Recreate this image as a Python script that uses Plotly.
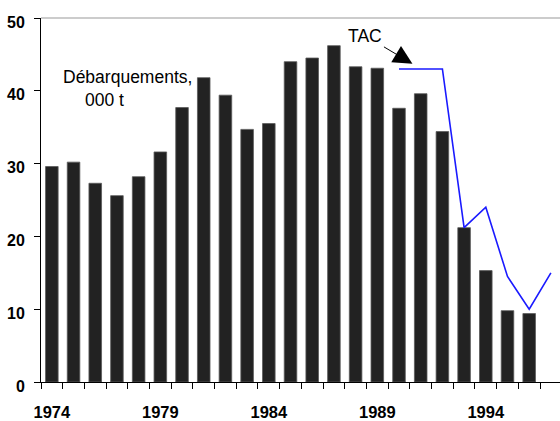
import plotly.graph_objects as go

years = list(range(1974, 1997))
landings = [29.6, 30.2, 27.3, 25.6, 28.2, 31.6, 37.7, 41.8, 39.4, 34.7, 35.5,
            44.0, 44.5, 46.2, 43.3, 43.1, 37.6, 39.6, 34.4, 21.2, 15.3, 9.8, 9.4]
tac_years = [1990, 1991, 1992, 1993, 1994, 1995, 1996, 1997]
tac_values = [43.0, 43.0, 43.0, 21.2, 24.0, 14.5, 10.0, 15.0]
tick_years = [1974, 1979, 1984, 1989, 1994]
y_ticks = [0, 10, 20, 30, 40, 50]

FONT = "Arial, Liberation Sans, sans-serif"

fig = go.Figure()
fig.add_trace(go.Bar(
    x=years, y=landings, width=0.58,
    marker=dict(color="#222222", line=dict(color="#5a5a5a", width=0.8)),
    showlegend=False,
))
fig.add_trace(go.Scatter(
    x=tac_years, y=tac_values, mode="lines",
    line=dict(color="#1a1aff", width=1.6),
    showlegend=False,
))

fig.update_layout(
    width=560, height=421,
    margin=dict(l=41, r=0, t=18, b=39, autoexpand=False),
    paper_bgcolor="white", plot_bgcolor="white",
    font=dict(family=FONT, color="black"),
    xaxis=dict(
        range=[1973.5, 1997.42],
        automargin=False,
        tickvals=tick_years,
        ticktext=[str(t) for t in tick_years],
        ticks="outside", ticklen=6, tickcolor="rgba(0,0,0,0)",
        ticklabelstandoff=9,
        tickfont=dict(family=FONT, size=16.5, color="black", weight="bold"),
        showline=True, linecolor="black", linewidth=1,
        showgrid=False, zeroline=False,
        minor=dict(tick0=1973.5, dtick=1, ticks="outside", ticklen=6,
                   tickcolor="black", tickwidth=1, showgrid=False),
    ),
    yaxis=dict(
        range=[0, 50],
        automargin=False,
        tickvals=y_ticks,
        ticks="outside", ticklen=6, tickcolor="black", tickwidth=1,
        ticklabelstandoff=6, ticklabelshift=4,
        tickfont=dict(family=FONT, size=16, color="black", weight="bold"),
        showline=True, linecolor="black", linewidth=1,
        showgrid=False, zeroline=False,
    ),
    shapes=[dict(type="line", xref="paper", yref="paper", x0=0, x1=1, y0=1, y1=1,
                 line=dict(color="#9a9a9a", width=1.2))],
    annotations=[
        dict(x=1974.4, y=41.94, xref="x", yref="y", text="Débarquements,",
             showarrow=False, xanchor="left", yanchor="middle",
             font=dict(family=FONT, size=17.5, color="black")),
        dict(x=1975.45, y=38.78, xref="x", yref="y", text="000 t",
             showarrow=False, xanchor="left", yanchor="middle",
             font=dict(family=FONT, size=17.5, color="black")),
        dict(x=1990.62, y=43.7, xref="x", yref="y", text="TAC",
             showarrow=True, ax=-47, ay=-28, arrowhead=2, arrowsize=3.8,
             arrowwidth=1, arrowcolor="black",
             font=dict(family=FONT, size=17.5, color="black")),
    ],
)

fig.write_html("out.html", config={"displayModeBar": False},
               post_script="document.body.style.margin='0px';")
